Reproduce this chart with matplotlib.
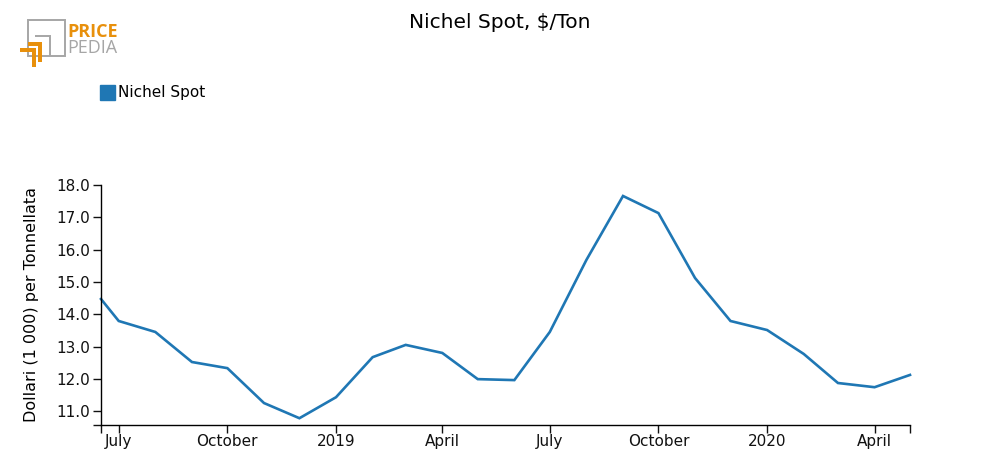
import numpy as np
import matplotlib
matplotlib.use('Agg')
import matplotlib.pyplot as plt
import matplotlib.dates as mdates
from matplotlib.patches import Rectangle, Polygon
from datetime import date

# data (monthly nickel spot, thousand $/ton)
dates = [date(2018, 6, 16)] + [date(2018 + (m - 1) // 12, (m - 1) % 12 + 1, 1)
                               for m in range(7, 7 + 23)]
values = [14.47, 13.79, 13.45, 12.52, 12.33, 11.25, 10.78, 11.43, 12.67,
          13.05, 12.80, 11.99, 11.96, 13.45, 15.68, 17.66, 17.13, 15.12,
          13.79, 13.51, 12.77, 11.87, 11.74, 12.12]
tick_dates = [date(2018, 7, 1), date(2018, 10, 1), date(2019, 1, 1),
              date(2019, 4, 1), date(2019, 7, 1), date(2019, 10, 1),
              date(2020, 1, 1), date(2020, 4, 1)]
tick_labels = ['July', 'October', '2019', 'April', 'July', 'October',
               '2020', 'April']
yticks = [11.0, 12.0, 13.0, 14.0, 15.0, 16.0, 17.0, 18.0]

blue = '#1f77b4'
orange = '#e8900c'
gray = '#a6a6a6'

fig = plt.figure(figsize=(10, 4.75), dpi=100)
ax = fig.add_axes([0.101, 1 - 425 / 475, 0.809, 240 / 475])

xd = mdates.date2num(dates)
ax.plot(xd, values, color=blue, lw=1.9, solid_joinstyle='miter',
        clip_on=False)

x0, x1 = xd[0], xd[-1]
ax.set_xlim(x0, x1)
ymin = 10.57
ax.set_ylim(ymin, 18.0)

tx = list(mdates.date2num(tick_dates)) + [x0, x1]
ax.set_xticks(tx)
ax.set_xticklabels(tick_labels + ['', ''])
ax.set_yticks(yticks + [ymin])
ax.set_yticklabels(['%.1f' % v for v in yticks] + [''])

for s in ['top', 'right']:
    ax.spines[s].set_visible(False)
for s in ['left', 'bottom']:
    ax.spines[s].set_linewidth(1.0)
ax.tick_params(direction='out', length=6, width=1.0, labelsize=11,
               colors='#111111', pad=2)
ax.tick_params(axis='x', pad=0.5)
ax.set_ylabel('Dollari (1 000) per Tonnellata', fontsize=11.5, labelpad=12)

fig.text(0.5, 0.952, 'Nichel Spot, $/Ton', ha='center', va='center',
         fontsize=14.5)

# legend
fig.patches.append(Rectangle((100 / 1000, 1 - 100 / 475), 15 / 1000, 15 / 475,
                             transform=fig.transFigure, color=blue))
fig.text(118 / 1000, 1 - 93 / 475, 'Nichel Spot', ha='left', va='center',
         fontsize=11)

# logo
def px(x, y):
    return (x / 1000, 1 - y / 475)

def poly(pts, **kw):
    fig.patches.append(Polygon([px(*p) for p in pts], closed=kw.pop('closed', True),
                               transform=fig.transFigure, **kw))

poly([(28, 20), (65, 20), (65, 56), (28, 56)], closed=True, fill=False,
     edgecolor=gray, lw=1.4)
poly([(35, 35.5), (49.5, 35.5), (49.5, 56)], closed=False, fill=False,
     edgecolor=gray, lw=1.4)
poly([(28, 42), (42, 42), (42, 62), (38, 62), (38, 46), (28, 46)],
     facecolor=orange, edgecolor='none')
poly([(20, 48), (36, 48), (36, 67), (32, 67), (32, 52), (20, 52)],
     facecolor=orange, edgecolor='none')
fig.text(67 / 1000, 1 - 32 / 475, 'PRICE', ha='left', va='center',
         fontsize=13, fontweight='bold', color=orange, family='Open Sans')
fig.text(67 / 1000, 1 - 48 / 475, 'PEDIA', ha='left', va='center',
         fontsize=13, color=gray, family='Open Sans')

fig.savefig('out.png', dpi=100)
